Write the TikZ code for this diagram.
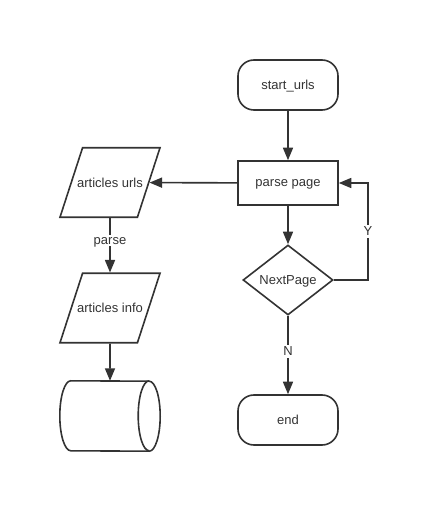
\documentclass[tikz,border=0pt]{standalone}
\usepackage{fontspec}
\setmainfont{Liberation Sans}
\usetikzlibrary{arrows.meta, calc, positioning, shapes.geometric}

\begin{document}
\begin{tikzpicture}[font=\fontsize{13}{15}\selectfont, color={black!80}, every node/.style={text depth=0pt}]

	\tikzstyle{term}=[draw, rectangle, rounded corners=16pt, minimum width=100pt, minimum height=50pt, line width=1.6pt, inner sep=0pt]
	\tikzstyle{proc}=[draw, rectangle, minimum width=100pt, minimum height=44pt, line width=1.6pt, inner sep=0pt]
	\tikzstyle{deci}=[draw, diamond, minimum width=90pt, minimum height=70pt, line width=1.6pt, inner sep=0pt]
	\tikzstyle{datos}=[draw, trapezium, trapezium left angle=72, trapezium right angle=108, trapezium stretches body, minimum width=100pt, inner xsep=-9pt, inner ysep=30pt, line width=1.6pt]
	\tikzstyle{bd}=[rectangle, minimum width=100pt, minimum height=70pt, inner sep=0pt]
	\tikzstyle{borde}=[line width=1.6pt]
	\tikzstyle{flecha}=[-{Triangle[length=12.5pt, width=10pt]}, line width=1.6pt]
	\tikzstyle{etiq}=[fill=white, inner sep=2pt]

	\useasboundingbox (0pt, 0pt) rectangle (428pt, 512pt);

	\coordinate (c_inicio) at (288pt, 427pt); % INICIO
	\coordinate (c_parse) at (288pt, 329pt);
	\coordinate (c_next) at (288pt, 232pt);
	\coordinate (c_fin) at (288pt, 92pt); % FIN
	\coordinate (c_urls) at (110pt, 329.5pt);
	\coordinate (c_info) at (110pt, 204pt);
	\coordinate (c_bd) at (110pt, 96pt);
	\coordinate (c_lazo) at (368pt, 232pt); % LAZO Y

	\node[term] (start) at (c_inicio) {start\_urls};
	\node[proc] (parse) at (c_parse) {parse page};
	\node[deci] (next) at (c_next) {NextPage};
	\node[term] (end) at (c_fin) {end};

	\node[datos] (urls) at (c_urls) {articles urls};
	\node[datos] (info) at (c_info) {articles info};
	\node[bd] (bd) at (c_bd) {};

	% cilindro
	\draw[borde] ([xshift=11pt]bd.north west) arc[start angle=90, end angle=270, x radius=11pt, y radius=35pt] -- ([xshift=-11pt]bd.south east) arc[start angle=-90, end angle=90, x radius=11pt, y radius=35pt] -- cycle;
	\draw[borde] ([xshift=-11pt]bd.north east) arc[start angle=90, end angle=270, x radius=11pt, y radius=35pt];

	\draw[flecha] (start) -- (parse);
	\draw[flecha] (parse) -- (urls);
	\draw[flecha] (parse) -- (next);
	\draw[flecha] (next) -- node[etiq, pos=0.45] {N} (end);
	\draw[flecha] (next.east) -- (c_lazo) -- node[etiq, pos=0.5] {Y} (c_lazo |- parse.east) -- (parse.east);

	\draw[flecha] (urls) -- node[etiq, pos=0.42] {parse} (info);
	\draw[flecha] (info) -- (bd);

\end{tikzpicture}
\end{document}
